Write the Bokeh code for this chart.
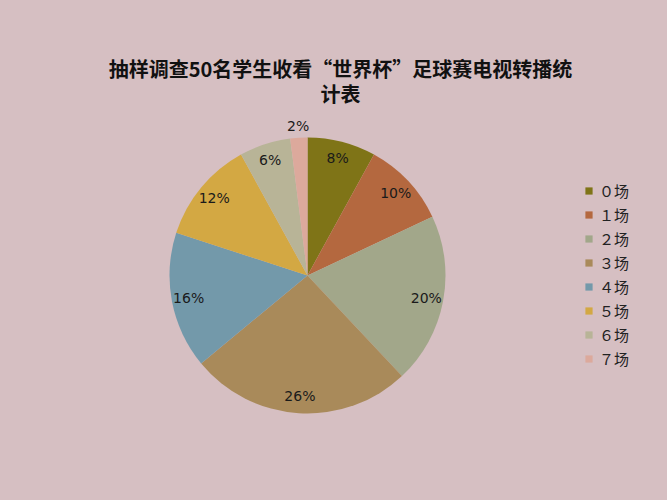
import math
import pandas as pd
from bokeh.plotting import figure
from bokeh.models import ColumnDataSource, Range1d, Legend, LegendItem
from bokeh.core.properties import value
from bokeh.embed import file_html
from bokeh.resources import INLINE

categories = ["０场", "１场", "２场", "３场", "４场", "５场", "６场", "７场"]
percent = [8, 10, 20, 26, 16, 12, 6, 2]
colors = ["#7f7417", "#b4683f", "#a2a78a", "#a98a5a", "#7399aa", "#d3a843", "#b8b497", "#dca99c"]
pct_labels = ["8%", "10%", "20%", "26%", "16%", "12%", "6%", "2%"]
title_lines = ["抽样调查50名学生收看“世界杯”足球赛电视转播统", "计表"]

BG = "#d6bfc2"
W, H = 667, 500

df = pd.DataFrame({"cat": categories, "pct": percent, "color": colors, "label": pct_labels})
total = df["pct"].sum()
frac = df["pct"] / total
cum = frac.cumsum()
prev = cum - frac
df["start"] = math.pi / 2 - prev * 2 * math.pi
df["end"] = math.pi / 2 - cum * 2 * math.pi
mid = math.pi / 2 - (prev + frac / 2) * 2 * math.pi

cx, cy, r = 307, H - 275, 138
lr = [150 if f < 0.03 else 121 for f in frac]
df["lx"] = [cx + rr * math.cos(a) for rr, a in zip(lr, mid)]
df["ly"] = [cy + rr * math.sin(a) for rr, a in zip(lr, mid)]

src = ColumnDataSource(df)

p = figure(width=W, height=H, output_backend="svg", toolbar_location=None,
           x_range=Range1d(0, W), y_range=Range1d(0, H), min_border=0,
           background_fill_color=BG, border_fill_color=BG)
p.axis.visible = False
p.grid.visible = False
p.outline_line_color = None

wr = p.wedge(x=cx, y=cy, radius=r, start_angle="start", end_angle="end",
             direction="clock", fill_color="color", line_color=None, source=src)

p.text(x="lx", y="ly", text="label", source=src, text_align="center",
       text_baseline="middle", text_font=value("DejaVu Sans"),
       text_font_size="14px", text_color="#1a1a1a")

tsrc = ColumnDataSource(dict(x=[340, 340], y=[H - 68, H - 93], t=title_lines))
p.text(x="x", y="y", text="t", source=tsrc, text_align="center",
       text_baseline="middle", text_font=value("Noto Sans CJK SC"),
       text_font_style="bold", text_font_size="20px", text_color="#111111")

items = [LegendItem(label=c, renderers=[wr], index=i) for i, c in enumerate(categories)]
legend = Legend(items=items, location=(584, 130), orientation="vertical",
                glyph_width=9, glyph_height=9, label_height=24, spacing=0,
                padding=0, margin=0, label_standoff=6,
                label_text_font="Noto Sans CJK SC", label_text_font_size="15px",
                label_text_color="#222222", border_line_alpha=0,
                background_fill_alpha=0)
p.add_layout(legend, "center")

html = file_html(p, INLINE)
html = html.replace("<head>", "<head><style>html,body{margin:0;padding:0;background:%s;overflow:hidden;}</style>" % BG, 1)
open("out.html", "w").write(html)
